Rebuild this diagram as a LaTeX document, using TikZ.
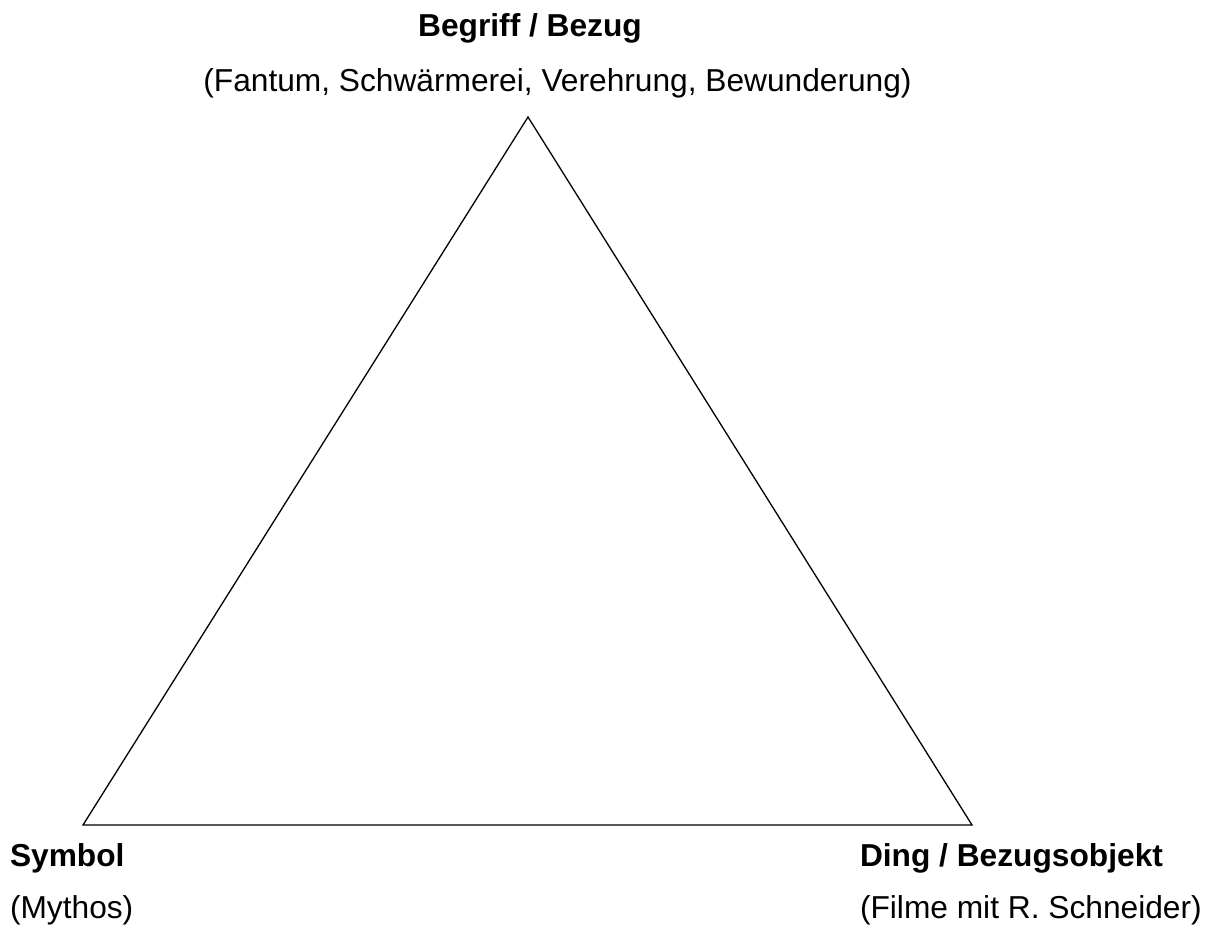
\documentclass[tikz,border=0pt]{standalone}
\usepackage{fontspec}
\setmainfont{Liberation Sans}
\begin{document}
\begin{tikzpicture}[x=1pt,y=-1pt,
  lbl/.style={inner sep=0pt, outer sep=0pt, font=\fontsize{31.7}{38}\selectfont},
  head/.style={lbl, font=\fontsize{31.7}{38}\selectfont\bfseries},
  edge/.style={draw=black, line width=1.3pt, line join=miter}]
\useasboundingbox (0,0) rectangle (1216,927);
\coordinate (top) at (528,117);
\coordinate (bl) at (83,825);
\coordinate (br) at (972,825);
\draw[edge] (top) -- (bl) -- (br) -- cycle;
\node[head, anchor=base] (begriff) at (530,36) {Begriff / Bezug};
\node[lbl, anchor=base] (fantum) at (557.5,91) {(Fantum, Schwärmerei, Verehrung, Bewunderung)};
\node[head, anchor=base west] (symbol) at (10,866) {Symbol};
\node[lbl, anchor=base west] (mythos) at (10,918) {(Mythos)};
\node[head, anchor=base west] (ding) at (860,866) {Ding / Bezugsobjekt};
\node[lbl, anchor=base west] (filme) at (860,918) {(Filme mit R. Schneider)};
\end{tikzpicture}
\end{document}
